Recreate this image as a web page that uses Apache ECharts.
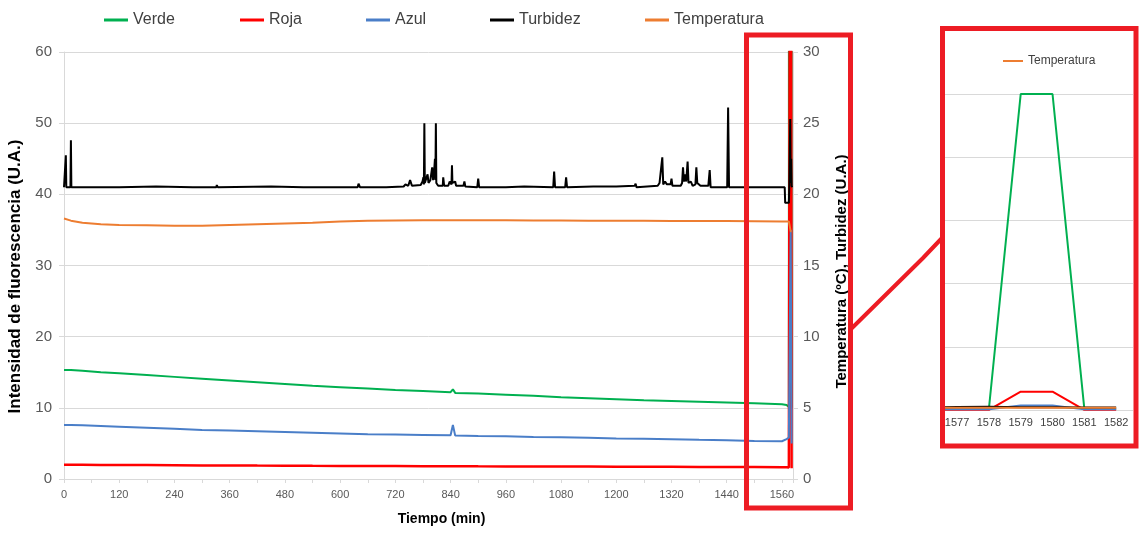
<!DOCTYPE html>
<html>
<head>
<meta charset="utf-8">
<script src="https://cdn.jsdelivr.net/npm/echarts@6/dist/echarts.min.js"></script>
<style>
html,body{margin:0;padding:0;background:#fff;}
#c{width:1139px;height:534px;}
</style>
</head>
<body>
<div id="c"></div>
<script>
// ---- data ----
const times = [0,15,40,80,120,180,240,300,360,420,480,540,600,660,720,780,840,845,850,900,960,1020,1080,1140,1200,1260,1320,1380,1440,1500,1560,1570,1575,1577,1578,1579,1580,1581,1582];
const verde = [15.3,15.3,15.2,15.0,14.85,14.6,14.35,14.1,13.85,13.6,13.35,13.1,12.9,12.7,12.5,12.35,12.2,12.6,12.1,12.0,11.85,11.7,11.5,11.35,11.2,11.05,10.95,10.85,10.75,10.65,10.5,10.4,10.1,10.0,10.0,2500,2500,10.0,10.0];
const roja = [2.0,2.0,2.0,1.98,1.97,1.95,1.93,1.9,1.9,1.88,1.87,1.85,1.84,1.83,1.82,1.8,1.8,1.8,1.8,1.78,1.77,1.76,1.75,1.74,1.73,1.72,1.71,1.7,1.7,1.68,1.65,1.65,1.62,1.6,1.6,145,145,1.5,1.5];
const azul = [7.6,7.6,7.55,7.45,7.35,7.2,7.05,6.9,6.8,6.7,6.6,6.5,6.4,6.3,6.25,6.2,6.15,7.6,6.1,6.05,6.0,5.9,5.85,5.8,5.7,5.65,5.6,5.5,5.45,5.35,5.3,5.6,5.8,5.8,5.8,35,35,5.0,5.0];
const temperatura = [18.3,18.15,18.0,17.9,17.85,17.82,17.79,17.79,17.85,17.9,17.95,18.0,18.1,18.15,18.17,18.18,18.18,18.18,18.18,18.18,18.18,18.17,18.16,18.15,18.15,18.14,18.13,18.12,18.12,18.11,18.1,18.1,18.1,18.1,18.1,17.4,17.4,17.4,17.4];
// turbidity readings as [time, value]
const turbidez = [[0,20.5],[3,20.5],[4,22.75],[5,20.5],[14,20.5],[15,23.8],[16,20.5],[120,20.5],[200,20.55],[280,20.5],
  [331,20.5],[332,20.65],[334,20.5],[450,20.55],[520,20.5],[600,20.5],[638,20.5],[640,20.75],[643,20.5],[700,20.5],
  [738,20.55],[742,20.7],[748,20.6],[752,21.0],[756,20.6],[775,20.65],[779,20.9],[781,21.2],[782,20.7],[783,25.0],
  [784,20.8],[787,20.9],[790,21.4],[792,20.8],[796,21.0],[800,21.9],[802,21.0],[804,21.5],[806,22.5],[807,21.0],
  [808,25.0],[809,20.8],[813,20.6],[823,20.6],[824,21.2],[826,20.6],[835,20.6],[838,20.9],[842,20.7],[843,22.05],
  [844,20.8],[850,20.9],[852,20.6],[868,20.6],[870,20.9],[872,20.55],[898,20.5],[900,21.1],[902,20.5],[960,20.5],
  [1000,20.55],[1063,20.5],[1065,21.6],[1067,20.5],[1089,20.5],[1091,21.2],[1093,20.5],[1150,20.55],[1200,20.55],[1240,20.6],
  [1242,20.75],[1244,20.5],[1290,20.6],[1294,20.8],[1298,20.9],[1300,22.6],[1302,20.7],[1306,20.9],[1310,20.7],[1318,20.7],
  [1320,21.1],[1322,20.6],[1340,20.6],[1343,20.8],[1345,21.9],[1347,20.9],[1350,21.4],[1352,20.9],[1355,22.3],[1357,20.8],
  [1362,20.9],[1366,20.6],[1372,20.7],[1374,21.9],[1376,20.8],[1380,20.9],[1383,20.6],[1400,20.6],[1403,21.7],[1405,20.5],
  [1441,20.5],[1443,26.1],[1445,20.5],[1500,20.5],[1560,20.5],[1566,20.5],[1567,19.4],[1575,19.4],[1576,20.6],[1577,23.0],
  [1578,25.3],[1579,20.8],[1580,22.5],[1581,20.6],[1582,20.5]];
const seriesNames = ['Verde','Roja','Azul','Turbidez','Temperatura'];
const seriesColors = ['#00B050','#FF0000','#4A7EC8','#000000','#ED7D31'];
const insetTicks = [1577,1578,1579,1580,1581,1582];
const xLabel = 'Tiempo (min)';
const yLeftLabel = 'Intensidad de fluorescencia (U.A.)';
const yRightLabel = 'Temperatura (ºC), Turbidez (U.A.)';

// ---- build ----
const pairs = (xs, ys) => xs.map((x, i) => [x, ys[i]]);
const seriesData = [
  {name: 'Verde', data: pairs(times, verde), y: 0, w: 2},
  {name: 'Roja', data: pairs(times, roja), y: 0, w: 2.5},
  {name: 'Azul', data: pairs(times, azul), y: 0, w: 2},
  {name: 'Turbidez', data: turbidez, y: 1, w: 2},
  {name: 'Temperatura', data: pairs(times, temperatura), y: 1, w: 2}
];
const FONT = 'Liberation Sans';
const GRID = '#D9D9D9';
const series = [];
seriesData.forEach((s, i) => {
  series.push({
    name: s.name, type: 'line', xAxisIndex: 0, yAxisIndex: s.y,
    data: s.data, showSymbol: false, symbol: 'none',
    lineStyle: {width: s.w, color: seriesColors[i]}, itemStyle: {color: seriesColors[i]},
    clip: true, animation: false
  });
});
seriesData.forEach((s, i) => {
  series.push({
    name: s.name, type: 'line', xAxisIndex: 1, yAxisIndex: 2,
    data: s.data, showSymbol: false, symbol: 'none',
    lineStyle: {width: 2, color: seriesColors[i]}, itemStyle: {color: seriesColors[i]},
    clip: true, animation: false
  });
});

const legendLefts = [99, 235, 361, 485, 640];
const legends = seriesNames.map((n, i) => ({
  data: [n], left: legendLefts[i], top: 7, icon: 'rect', itemWidth: 24, itemHeight: 3,
  itemGap: 4, textStyle: {fontFamily: FONT, fontSize: 16, color: '#404040'}
}));
legends.push({
  data: ['Temperatura'], left: 998, top: 50, icon: 'rect', itemWidth: 20, itemHeight: 2,
  textStyle: {fontFamily: FONT, fontSize: 12, color: '#404040'}
});

const option = {
  backgroundColor: '#fff',
  animation: false,
  legend: legends,
  grid: [
    {left: 64, right: 346, top: 52, bottom: 55, outerBoundsMode: 'none', containLabel: false},
    {left: 945, right: 6, top: 94, bottom: 124, outerBoundsMode: 'none', containLabel: false}
  ],
  xAxis: [
    {
      type: 'value', gridIndex: 0, min: 0, max: 1584, interval: 60,
      name: xLabel, nameLocation: 'middle', nameGap: 33,
      nameTextStyle: {fontFamily: FONT, fontSize: 14, fontWeight: 'bold', color: '#000', padding: [0, 0, 0, 26]},
      axisLine: {show: true, lineStyle: {color: GRID}},
      axisTick: {show: true, length: 4, lineStyle: {color: GRID}},
      splitLine: {show: false},
      axisLabel: {fontFamily: FONT, fontSize: 11, color: '#595959', margin: 10,
        formatter: v => (v % 120 === 0 ? String(v) : '')}
    },
    {
      type: 'value', gridIndex: 1, min: 1576.62, max: 1582.53,
      axisLine: {show: false}, axisTick: {show: false}, splitLine: {show: false},
      axisLabel: {customValues: insetTicks, fontFamily: FONT, fontSize: 11, color: '#404040', margin: 7,
        formatter: v => String(Math.round(v))}
    }
  ],
  yAxis: [
    {
      type: 'value', gridIndex: 0, position: 'left', min: 0, max: 60, interval: 10,
      name: yLeftLabel, nameLocation: 'middle', nameGap: 40, nameRotate: 90,
      nameTextStyle: {fontFamily: FONT, fontSize: 17, fontWeight: 'bold', color: '#000', padding: [0, 22, 0, 0]},
      axisLine: {show: true, lineStyle: {color: GRID}},
      axisTick: {show: true, length: 5, lineStyle: {color: GRID}},
      splitLine: {show: true, lineStyle: {color: GRID, width: 1}},
      axisLabel: {fontFamily: FONT, fontSize: 15, color: '#595959', margin: 12}
    },
    {
      type: 'value', gridIndex: 0, position: 'right', min: 0, max: 30, interval: 5,
      name: yRightLabel, nameLocation: 'middle', nameGap: 41, nameRotate: 90,
      nameTextStyle: {fontFamily: FONT, fontSize: 15, fontWeight: 'bold', color: '#000', padding: [0, 12, 0, 0]},
      axisLine: {show: true, lineStyle: {color: GRID}},
      axisTick: {show: true, length: 5, lineStyle: {color: GRID}},
      splitLine: {show: false},
      axisLabel: {fontFamily: FONT, fontSize: 15, color: '#595959', margin: 10}
    },
    {
      type: 'value', gridIndex: 1, min: 0, max: 2500, interval: 500,
      axisLine: {show: false}, axisTick: {show: false}, axisLabel: {show: false},
      splitLine: {show: true, lineStyle: {color: GRID, width: 1}}
    }
  ],
  series: series,
  graphic: [
    {type: 'rect', z: 100, shape: {x: 746.5, y: 35, width: 104, height: 473},
      style: {fill: 'none', stroke: '#ED1C24', lineWidth: 5}},
    {type: 'rect', z: 100, shape: {x: 942.5, y: 28.5, width: 193.5, height: 417.5},
      style: {fill: 'none', stroke: '#ED1C24', lineWidth: 5}},
    {type: 'polyline', z: 100, shape: {points: [[851, 329], [923, 258], [942, 238]]},
      style: {fill: 'none', stroke: '#ED1C24', lineWidth: 4}}
  ]
};
const chart = echarts.init(document.getElementById('c'), null, {renderer: 'canvas'});
chart.setOption(option);
</script>
</body>
</html>
